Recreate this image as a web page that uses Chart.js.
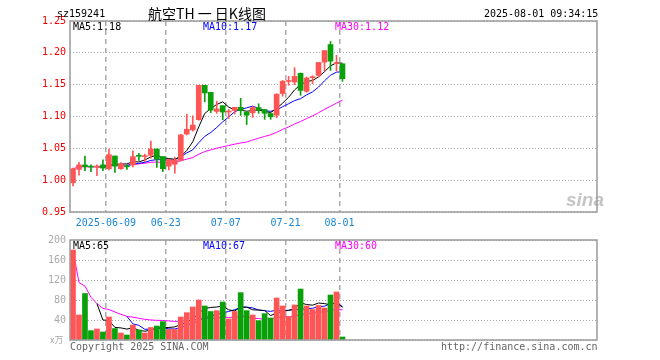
<!DOCTYPE html>
<html>
<head>
<meta charset="utf-8">
<script src="https://cdn.jsdelivr.net/npm/chart.js@4.4.1/dist/chart.umd.min.js"></script>
<style>
    body { margin: 0; background: #fff; }
    #wrap { position: relative; width: 660px; height: 360px; overflow: hidden; font-family: "DejaVu Sans Mono", monospace; font-size: 10px; }
    canvas { position: absolute; left: 0; top: 0; }
    .t { position: absolute; white-space: nowrap; line-height: 12px; }
</style>
</head>
<body>
<div id="wrap">
    <canvas id="price" width="660" height="360"></canvas>
    <canvas id="volume" width="660" height="360"></canvas>
    <div class="t" style="left:57px;top:8px;">sz159241</div>
    <div class="t" style="left:148px;top:4px;font-family:'Noto Sans CJK SC';font-size:14px;line-height:18px;">航空TH 一 日K线图</div>
    <div class="t" style="left:484px;top:8px;">2025-08-01 09:34:15</div>
    <div class="t" style="left:73px;top:21px;color:#000;">MA5:1.18</div>
    <div class="t" style="left:203px;top:21px;color:#0000ff;">MA10:1.17</div>
    <div class="t" style="left:335px;top:21px;color:#ff00ff;">MA30:1.12</div>
    <div class="t" style="left:73px;top:240px;color:#000;">MA5:65</div>
    <div class="t" style="left:203px;top:240px;color:#0000ff;">MA10:67</div>
    <div class="t" style="left:335px;top:240px;color:#ff00ff;">MA30:60</div>
    <div class="t" style="left:50px;top:334px;color:#aaa;font-family:'Noto Sans CJK SC';font-size:9px;">x万</div>
    <div class="t" style="left:70px;top:341px;color:#666;">Copyright 2025 SINA.COM</div>
    <div class="t" style="left:441px;top:341px;color:#666;">http://finance.sina.com.cn</div>
    <div class="t" style="left:566px;top:190px;color:rgba(150,150,150,0.55);font-family:'Liberation Sans';font-size:19px;font-style:italic;font-weight:bold;line-height:20px;">sina</div>
</div>
<script>
const DATES = ["2025-05-29", "2025-05-30", "2025-06-03", "2025-06-04", "2025-06-05", "2025-06-06",
    "2025-06-09", "2025-06-10", "2025-06-11", "2025-06-12", "2025-06-13", "2025-06-16", "2025-06-17",
    "2025-06-18", "2025-06-19", "2025-06-20", "2025-06-23", "2025-06-24", "2025-06-25", "2025-06-26",
    "2025-06-27", "2025-06-30", "2025-07-01", "2025-07-02", "2025-07-03", "2025-07-04", "2025-07-07",
    "2025-07-08", "2025-07-09", "2025-07-10", "2025-07-11", "2025-07-14", "2025-07-15", "2025-07-16",
    "2025-07-17", "2025-07-18", "2025-07-21", "2025-07-22", "2025-07-23", "2025-07-24", "2025-07-25",
    "2025-07-28", "2025-07-29", "2025-07-30", "2025-07-31", "2025-08-01"];

const OPEN = [0.996, 1.017, 1.024, 1.021, 1.0205, 1.024, 1.018, 1.038, 1.018, 1.0215, 1.024, 1.038,
    1.037, 1.039, 1.049, 1.037, 1.022, 1.025, 1.031, 1.0725, 1.079, 1.095, 1.149, 1.138, 1.108, 1.117,
    1.107, 1.1095, 1.1145, 1.107, 1.1057, 1.114, 1.111, 1.1047, 1.102, 1.136, 1.155, 1.1542, 1.168,
    1.1396, 1.161, 1.1646, 1.1854, 1.213, 1.183, 1.1828];
const HIGH = [1.019, 1.028, 1.038, 1.024, 1.024, 1.032, 1.049, 1.038, 1.0275, 1.024, 1.046, 1.042,
    1.041, 1.0615, 1.049, 1.037, 1.033, 1.036, 1.072, 1.1036, 1.101, 1.149, 1.149, 1.138, 1.124, 1.117,
    1.111, 1.1145, 1.1285, 1.107, 1.116, 1.120, 1.111, 1.1047, 1.136, 1.1568, 1.163, 1.1766, 1.168,
    1.162, 1.164, 1.185, 1.2036, 1.2177, 1.196, 1.1828];
const LOW = [0.991, 1.008, 1.015, 1.0135, 1.007, 1.015, 1.016, 1.012, 1.017, 1.017, 1.021, 1.031,
    1.029, 1.0345, 1.020, 1.0135, 1.016, 1.011, 1.030, 1.071, 1.077, 1.094, 1.123, 1.106, 1.105, 1.095,
    1.097, 1.104, 1.1016, 1.0875, 1.0985, 1.105, 1.0955, 1.0955, 1.098, 1.1318, 1.149, 1.150, 1.1333,
    1.138, 1.1516, 1.162, 1.172, 1.1724, 1.1714, 1.1552];
const CLOSE = [1.018, 1.024, 1.021, 1.0205, 1.021, 1.019, 1.040, 1.022, 1.0255, 1.021, 1.037, 1.0375,
    1.038, 1.049, 1.033, 1.018, 1.032, 1.032, 1.071, 1.080, 1.0865, 1.149, 1.137, 1.110, 1.112, 1.107,
    1.108, 1.1145, 1.1095, 1.102, 1.114, 1.110, 1.105, 1.0995, 1.135, 1.1552, 1.156, 1.163, 1.141,
    1.1604, 1.162, 1.1849, 1.2036, 1.187, 1.184, 1.1594];
// volume in 万
const VOLUME = [180, 50, 93, 18.7, 22, 16, 46, 23, 14, 10, 30, 20, 14, 25, 28, 36.7, 21, 21, 46, 54.7,
    66, 80, 68, 57, 58.7, 76, 42, 57, 94.7, 58.7, 50, 38.7, 52.7, 44, 84, 68, 47, 70, 102, 68,
    61, 69, 64, 90, 96, 6];

const TICK_DATES = ["2025-06-09", "2025-06-23", "2025-07-07", "2025-07-21", "2025-08-01"];
const TICK_LABELS = ["2025-06-09", "06-23", "07-07", "07-21", "08-01"];
const PRICE_TICKS = [0.95, 1.00, 1.05, 1.10, 1.15, 1.20, 1.25];
const VOLUME_TICKS = [0, 40, 80, 120, 160, 200];

const SLOT_COUNT = 88,
    UP_COLOR = "#ff5555",
    DOWN_COLOR = "#0aa00a",
    MA5_COLOR = "#000000",
    MA10_COLOR = "#0000ff",
    MA30_COLOR = "#ff00ff",
    GRID_COLOR = "#aaaaaa",
    FRAME_COLOR = "#9a9a9a",
    MONO = "'DejaVu Sans Mono', monospace";

// x slots: real dates then empty room on the right
let slots = [];
for (let i = 0; i < SLOT_COUNT; i++) {
    slots.push(i < DATES.length ? DATES[i] : "");
}
const tickIndexes = TICK_DATES.map((d) => DATES.indexOf(d));

function movingAverage(values, n, fromStart) {
    let out = [];
    for (let i = 0; i < values.length; i++) {
        if (i < n - 1 && !fromStart) {
            out.push(null);
            continue;
        }
        let start = Math.max(0, i - n + 1), sum = 0;
        for (let j = start; j <= i; j++) {
            sum += values[j];
        }
        out.push(sum / (i - start + 1));
    }
    return out;
}

const candleColors = CLOSE.map((c, i) => (c >= OPEN[i] ? UP_COLOR : DOWN_COLOR));

function lineDataset(data, color) {
    return {
        type: "line",
        data: data,
        borderColor: color,
        borderWidth: 1,
        pointRadius: 0,
        fill: false,
        tension: 0,
        spanGaps: false,
    };
}

const framePlugin = {
    id: "frame",
    afterDraw(chart) {
        const a = chart.chartArea, ctx = chart.ctx;
        ctx.save();
        ctx.strokeStyle = FRAME_COLOR;
        ctx.lineWidth = 1.5;
        ctx.strokeRect(a.left, a.top, a.right - a.left, a.bottom - a.top);
        ctx.restore();
    },
};

function xScale(showLabels) {
    return {
        type: "category",
        offset: true,
        grid: {
            offset: true,
            drawTicks: false,
            lineWidth: 1.5,
            color: (ctx) => (tickIndexes.includes(ctx.index) ? GRID_COLOR : "transparent"),
        },
        border: { display: false, dash: [5, 4] },
        ticks: {
            display: showLabels,
            autoSkip: false,
            maxRotation: 0,
            padding: 5,
            labelOffset: -3,
            color: "#1a86d6",
            font: { family: MONO, size: 10 },
            callback: (value, index) => {
                const k = tickIndexes.indexOf(index);
                return k >= 0 ? TICK_LABELS[k] : "";
            },
        },
        afterFit: (scale) => {
            scale.height = showLabels ? 20 : 0;
        },
    };
}

function yScale(ticks, color, format) {
    return {
        min: ticks[0],
        max: ticks[ticks.length - 1],
        afterBuildTicks: (scale) => {
            scale.ticks = ticks.map((v) => ({ value: v }));
        },
        grid: { color: GRID_COLOR, drawTicks: false, lineWidth: 1 },
        border: { display: false, dash: [1, 2] },
        ticks: {
            color: color,
            padding: 4,
            font: { family: MONO, size: 10 },
            callback: format,
        },
        afterFit: (scale) => {
            scale.width = 70;
        },
    };
}

new Chart(document.getElementById("price"), {
    type: "bar",
    data: {
        labels: slots,
        datasets: [
            {
                data: LOW.map((l, i) => [l, HIGH[i]]),
                backgroundColor: candleColors,
                barThickness: 1,
                grouped: false,
                minBarLength: 1,
            },
            {
                data: OPEN.map((o, i) => [o, CLOSE[i]]),
                backgroundColor: candleColors,
                barThickness: 5,
                grouped: false,
                minBarLength: 1,
            },
            lineDataset(movingAverage(CLOSE, 5, false), MA5_COLOR),
            lineDataset(movingAverage(CLOSE, 10, false), MA10_COLOR),
            lineDataset(movingAverage(CLOSE, 30, true), MA30_COLOR),
        ],
    },
    options: {
        responsive: false,
        animation: false,
        layout: { padding: { left: 0, right: 63, top: 21, bottom: 128 } },
        plugins: { legend: { display: false }, tooltip: { enabled: false } },
        scales: {
            x: xScale(true),
            y: yScale(PRICE_TICKS, "#ee0000", (v) => Number(v).toFixed(2)),
        },
    },
    plugins: [framePlugin],
});

new Chart(document.getElementById("volume"), {
    type: "bar",
    data: {
        labels: slots,
        datasets: [
            {
                data: VOLUME,
                backgroundColor: candleColors,
                barThickness: 5,
                grouped: false,
            },
            lineDataset(movingAverage(VOLUME, 5, false), MA5_COLOR),
            lineDataset(movingAverage(VOLUME, 10, false), MA10_COLOR),
            lineDataset(movingAverage(VOLUME, 30, true), MA30_COLOR),
        ],
    },
    options: {
        responsive: false,
        animation: false,
        layout: { padding: { left: 0, right: 63, top: 240, bottom: 20 } },
        plugins: { legend: { display: false }, tooltip: { enabled: false } },
        scales: {
            x: xScale(false),
            y: yScale(VOLUME_TICKS, "#aaaaaa", (v) => (v === 0 ? "" : String(v))),
        },
    },
    plugins: [framePlugin],
});
</script>
</body>
</html>
